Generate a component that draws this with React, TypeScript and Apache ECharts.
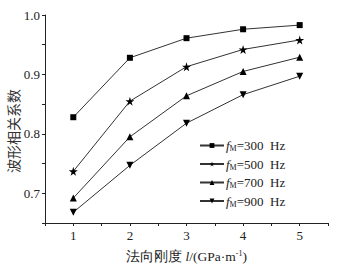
import React, { useEffect, useRef } from "react";
import * as echarts from "echarts";

const xValues = [1, 2, 3, 4, 5];
const s300 = [0.828, 0.928, 0.961, 0.976, 0.983];
const s500 = [0.737, 0.855, 0.913, 0.942, 0.958];
const s700 = [0.692, 0.795, 0.864, 0.905, 0.929];
const s900 = [0.668, 0.747, 0.818, 0.866, 0.897];
const seriesNames = ["300", "500", "700", "900"];
const yTitle = "波形相关系数";

const STAR = "path://M50,0 L61,35 L98,35 L68,57 L79,91 L50,70 L21,91 L32,57 L2,35 L39,35 Z";
const DOWN = "path://M0,0 L10,0 L5,9 Z";

const FONT = "'Liberation Serif', 'DejaVu Serif', serif";

export default function App() {
  const ref = useRef<HTMLDivElement>(null);
  useEffect(() => {
    const chart = echarts.init(ref.current!, null, { renderer: "svg" });
    const data = [s300, s500, s700, s900];
    const symbols = ["rect", STAR, "triangle", DOWN];
    const sizes = [6, 9, 7, 7];
    chart.setOption({
      animation: false,
      textStyle: { fontFamily: FONT },
      grid: { left: 45, top: 15, right: 13, bottom: 42 },
      graphic: [
        {
          type: "text",
          x: 12.5,
          y: 131,
          rotation: Math.PI / 2,
          style: {
            text: yTitle,
            fontSize: 14,
            fontFamily: "'Noto Sans CJK SC', serif",
            fill: "#333",
            align: "center",
            verticalAlign: "middle",
          },
        },
      ],
      legend: {
        orient: "vertical",
        left: 194,
        top: 134,
        itemWidth: 24,
        itemHeight: 6,
        itemGap: 5,
        data: seriesNames.map((n) => "f" + n),
        formatter: (name: string) => "{i|f}{s|M}{t|=" + name.slice(1) + "  Hz}",
        textStyle: {
          color: "#222",
          padding: [0, 0, 0, -3],
          rich: {
            i: { fontStyle: "italic", fontSize: 13, fontFamily: FONT, color: "#222" },
            s: { fontSize: 8, fontFamily: FONT, color: "#222", verticalAlign: "bottom", padding: [6, 0, 0, 0] },
            t: { fontSize: 13, fontFamily: FONT, color: "#222" },
          },
        },
      },
      xAxis: {
        type: "value",
        min: 0.5,
        max: 5.5,
        interval: 0.5,
        splitLine: { show: false },
        axisLine: { lineStyle: { color: "#222", width: 1 } },
        axisTick: { length: 3, lineStyle: { color: "#222" } },
        axisLabel: {
          color: "#222",
          fontSize: 13,
          fontFamily: FONT,
          margin: 6,
          formatter: (v: number) => (Math.abs(v - Math.round(v)) < 1e-6 ? String(Math.round(v)) : ""),
        },
        name: "{a|法向刚度 }{i|l}{a|/(GPa·m}{sup|-1}{a|)}",
        nameLocation: "middle",
        nameGap: 26,
        nameTextStyle: {
          rich: {
            a: { fontSize: 13.5, fontFamily: FONT, color: "#222" },
            i: { fontSize: 13.5, fontFamily: FONT, fontStyle: "italic", color: "#222" },
            sup: { fontSize: 8, fontFamily: FONT, color: "#222", verticalAlign: "top", padding: [0, 0, 6, 0] },
          },
        },
      },
      yAxis: {
        type: "value",
        min: 0.65,
        max: 1.0,
        interval: 0.05,
        splitLine: { show: false },
        axisLine: { show: true, lineStyle: { color: "#222", width: 1 } },
        axisTick: { show: true, length: 3, lineStyle: { color: "#222" } },
        axisLabel: {
          color: "#222",
          fontSize: 13,
          fontFamily: FONT,
          margin: 5,
          formatter: (v: number) => (Math.round(v * 100) % 10 === 0 ? v.toFixed(1) : ""),
        },
      },
      series: data.map((d, k) => ({
        name: "f" + seriesNames[k],
        type: "line",
        data: xValues.map((x, i) => [x, d[i]]),
        symbol: symbols[k],
        symbolSize: sizes[k],
        showAllSymbol: true,
        lineStyle: { color: "#333", width: 1 },
        itemStyle: { color: "#000" },
      })),
    });
    return () => chart.dispose();
  }, []);
  return <div ref={ref} style={{ width: 341, height: 268, position: "absolute", left: 0, top: 0 }} />;
}
